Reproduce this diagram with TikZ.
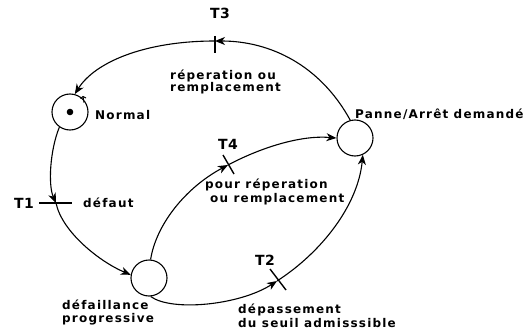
\documentclass[tikz,border=0pt]{standalone}
\usepackage{fontspec}
\setmainfont{DejaVu Sans}
\newfontfamily\lblfont[LetterSpace=10]{DejaVu Sans}
\newfontfamily\tfont[LetterSpace=2]{DejaVu Sans}
\usetikzlibrary{arrows.meta}
\tikzset{
 place/.style={circle, draw, line width=1.1pt, minimum size=36pt, inner sep=0pt},
 arc/.style={line width=1.1pt},
 arr/.style={arc, -{Stealth[length=10pt,width=8pt,inset=3pt]}},
 lbl/.style={anchor=base west, inner sep=0pt, font=\lblfont\bfseries\fontsize{12}{14}\selectfont},
 tlbl/.style={anchor=base west, inner sep=0pt, font=\tfont\bfseries\fontsize{14}{16}\selectfont},
 tbar/.style={line width=1.4pt},
}
\begin{document}
\begin{tikzpicture}[x=1pt,y=-1pt]
\useasboundingbox[fill=white] (0,0) rectangle (530,329);
\node[place] (N) at (70,112) {};
\node[place] (P) at (355,138) {};
\node[place] (D) at (149,278) {};
\fill (N.center) circle (3.3pt);
\draw[line width=1pt] (80.5,98.5) -- (83,96.5) -- (86,98);
\draw[line width=1pt] (83,96.5) -- (84,102.5);
\coordinate (t3) at (215,41);
\coordinate (t1) at (56,203);
\coordinate (t4) at (228,165);
\coordinate (t2) at (277,281);
\draw[arr] (P.105) .. controls (320,65) and (270,41) .. (t3);
\draw[arr] (t3) .. controls (145,41) and (95,62) .. (N.75);
\draw[arr] (N.235) .. controls (50,150) and (48,185) .. (t1);
\draw[arr] (t1) .. controls (62,232) and (100,262) .. (D.170);
\draw[arr] (D.85) .. controls (156,225) and (185,188) .. (t4);
\draw[arr] (t4) .. controls (260,148) and (300,135) .. (P.180);
\draw[arr] (D.275) .. controls (172,312) and (240,305) .. (t2);
\draw[arr] (t2) .. controls (322,252) and (358,205) .. (P.295);
\coordinate (t3a) at (215,36); \coordinate (t3b) at (215,53);
\coordinate (t1a) at (39,203); \coordinate (t1b) at (72,203);
\coordinate (t4a) at (223,155); \coordinate (t4b) at (234,174);
\coordinate (t2a) at (270,269); \coordinate (t2b) at (286,290);
\draw[tbar] (t3a) -- (t3b);
\draw[tbar] (t1a) -- (t1b);
\draw[tbar] (t4a) -- (t4b);
\draw[tbar] (t2a) -- (t2b);
\node[tlbl] (lT3) at (210,19) {T3};
\node[tlbl] (lT1) at (14,208) {T1};
\node[tlbl] (lT4) at (218,149) {T4};
\node[tlbl] (lT2) at (255,265) {T2};
\node[lbl] (lN) at (95,119) {Normal};
\node[lbl] (lP) at (355,118) {Panne/Arrêt demandé};
\node[lbl] (l31) at (170,80) {réperation ou};
\node[lbl] (l32) at (170,92) {remplacement};
\node[lbl] (l41) at (205,188) {pour réperation};
\node[lbl] (l42) at (210,202) {ou remplacement};
\node[lbl] (l11) at (83,207) {défaut};
\node[lbl] (lD1) at (62,309) {défaillance};
\node[lbl] (lD2) at (62,322) {progressive};
\node[lbl] (l21) at (238,313) {dépassement};
\node[lbl] (l22) at (238,327) {du seuil admisssible};
\end{tikzpicture}
\end{document}
